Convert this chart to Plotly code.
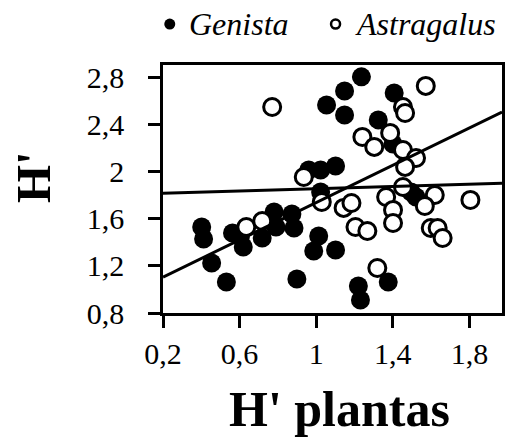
import plotly.graph_objects as go

# Genista (filled) – plant diversity vs. H'
genista_x = [0.402, 0.412, 0.454, 0.531, 0.563, 0.619, 0.604, 0.718, 0.780, 0.790,
             0.873, 0.884, 0.899, 0.987, 1.013, 1.101, 0.961, 1.023, 1.101, 1.023,
             1.236, 1.148, 1.054, 1.148, 1.407, 1.324, 1.401, 1.495, 1.521, 1.220,
             1.231, 1.376]
genista_y = [1.532, 1.430, 1.226, 1.064, 1.481, 1.362, 1.447, 1.438, 1.660, 1.532,
             1.643, 1.523, 1.089, 1.328, 1.455, 1.336, 2.017, 2.017, 2.051, 1.830,
             2.809, 2.689, 2.570, 2.485, 2.672, 2.443, 2.238, 1.830, 1.787, 1.030,
             0.911, 1.064]

# Astragalus (open)
astragalus_x = [0.770, 0.635, 0.718, 0.935, 1.029, 1.143, 1.184, 1.205, 1.267, 1.241,
                1.303, 1.386, 1.453, 1.521, 1.464, 1.453, 1.464, 1.572, 1.453, 1.365,
                1.401, 1.401, 1.619, 1.567, 1.805, 1.598, 1.634, 1.660, 1.319]
astragalus_y = [2.553, 1.532, 1.583, 1.957, 1.745, 1.694, 1.736, 1.532, 1.498, 2.298,
                2.213, 2.332, 2.187, 2.119, 2.043, 2.553, 2.502, 2.732, 1.872, 1.787,
                1.677, 1.566, 1.804, 1.711, 1.762, 1.523, 1.523, 1.438, 1.183]

# Linear fits (intercept, slope)
genista_fit = [0.947, 0.793]
astragalus_fit = [1.810, 0.048]

x_range = [0.2, 1.97]
y_range = [0.8, 2.91]
x_ticks = [0.2, 0.6, 1.0, 1.4, 1.8]
x_ticklabels = ["0,2", "0,6", "1", "1,4", "1,8"]
y_ticks = [0.8, 1.2, 1.6, 2.0, 2.4, 2.8]
y_ticklabels = ["0,8", "1,2", "1,6", "2", "2,4", "2,8"]

serif = "Liberation Serif, Times New Roman, serif"

fig = go.Figure()

fig.add_trace(go.Scatter(
    x=genista_x, y=genista_y, mode="markers", name="Genista",
    marker=dict(symbol="circle", size=19, color="black", line=dict(width=0)),
))
fig.add_trace(go.Scatter(
    x=astragalus_x, y=astragalus_y, mode="markers", name="Astragalus",
    marker=dict(symbol="circle", size=17, color="white",
                line=dict(color="black", width=3)),
))

for a, b in (genista_fit, astragalus_fit):
    fig.add_trace(go.Scatter(
        x=x_range, y=[a + b * x for x in x_range], mode="lines",
        line=dict(color="black", width=3),
    ))

axis_common = dict(
    showgrid=False, zeroline=False, showline=True, linecolor="black",
    linewidth=2.5, mirror=True, ticks="outside", ticklen=12, tickwidth=2.5,
    tickcolor="black", tickfont=dict(family=serif, size=30, color="black"),
)

fig.update_xaxes(range=x_range, tickvals=x_ticks, ticktext=x_ticklabels,
                 **axis_common)
fig.update_yaxes(range=y_range, tickvals=y_ticks, ticktext=y_ticklabels,
                 ticklabelstandoff=18, **axis_common)

# Key above the plot: symbol + italic species name
key_y = 1.165
key_items = [
    # (symbol x, text x, label, filled)
    (0.020, 0.070, "Genista", True),
    (0.509, 0.561, "Astragalus", False),
]
shapes = []
annotations = []
for sx, tx, label, filled in key_items:
    shapes.append(dict(
        type="circle", xref="paper", yref="paper",
        xsizemode="pixel", ysizemode="pixel",
        xanchor=sx, yanchor=key_y,
        x0=-5.5 if filled else -4.5, x1=5.5 if filled else 4.5,
        y0=-5.5 if filled else -4.5, y1=5.5 if filled else 4.5,
        fillcolor="black" if filled else "white",
        line=dict(color="black", width=0 if filled else 2.5),
    ))
    annotations.append(dict(
        text=f"<i>{label}</i>", xref="paper", yref="paper",
        x=tx, y=key_y, xanchor="left", yanchor="middle",
        showarrow=False, font=dict(family=serif, size=32, color="black"),
    ))

annotations += [
    dict(text="<b>H' plantas</b>", xref="paper", yref="paper",
         x=0.5, y=0, xanchor="center", yanchor="top",
         xshift=7, yshift=-66, showarrow=False,
         font=dict(family=serif, size=50, color="black")),
    dict(text="<b>H'</b>", xref="paper", yref="paper",
         x=0, y=0.548, xanchor="center", yanchor="middle",
         xshift=-130, textangle=-90, showarrow=False,
         font=dict(family=serif, size=49, color="black")),
]

fig.update_layout(
    width=510, height=439,
    margin=dict(l=163, r=5, t=65, b=126),
    plot_bgcolor="white", paper_bgcolor="white",
    showlegend=False,
    shapes=shapes,
    annotations=annotations,
)

fig.write_html("out.html")
